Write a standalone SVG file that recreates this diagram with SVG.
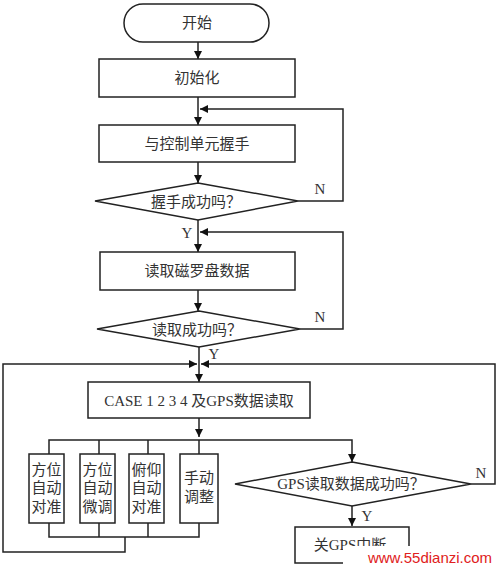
<svg xmlns="http://www.w3.org/2000/svg" width="500" height="566" viewBox="0 0 500 566">
<style>
.s{fill:#fff;stroke:#222;stroke-width:1.5}
.c{fill:none;stroke:#222;stroke-width:1.5}
.t{font-family:"Liberation Serif","Noto Sans CJK SC",serif;font-size:15px;fill:#333;text-anchor:middle;dominant-baseline:central}
.l{font-family:"Liberation Serif",serif;font-size:15px;fill:#333;text-anchor:middle;dominant-baseline:central}
</style>
<defs>
<marker id="a" viewBox="0 0 10 10" refX="10" refY="5" markerWidth="8" markerHeight="8" markerUnits="userSpaceOnUse" orient="auto">
<path d="M0,0 L10,5 L0,10 Z" fill="#111"/>
</marker>
</defs>
<rect width="500" height="566" fill="#fff"/>
<g id="connectors">
<line class="c" x1="198" y1="42" x2="198" y2="59" marker-end="url(#a)"/>
<line class="c" x1="198" y1="97" x2="198" y2="125" marker-end="url(#a)"/>
<polyline class="c" points="298,201 343,201 343,109 200,109" marker-end="url(#a)"/>
<line class="c" x1="198" y1="162" x2="198" y2="183" marker-end="url(#a)"/>
<line class="c" x1="198" y1="220" x2="198" y2="252" marker-end="url(#a)"/>
<polyline class="c" points="300,329 343,329 343,232 200,232" marker-end="url(#a)"/>
<line class="c" x1="198" y1="290" x2="198" y2="311" marker-end="url(#a)"/>
<line class="c" x1="199" y1="347" x2="199" y2="382" marker-end="url(#a)"/>
<polyline class="c" points="125,537 125,552 3,552 3,364 197,364" marker-end="url(#a)"/>
<polyline class="c" points="471,484 495,484 495,364 201,364" marker-end="url(#a)"/>
<line class="c" x1="199" y1="418" x2="199" y2="437" marker-end="url(#a)"/>
<polyline class="c" points="49,454 49,440 352,440 352,462" marker-end="url(#a)"/>
<line class="c" x1="99" y1="440" x2="99" y2="454"/>
<line class="c" x1="148" y1="440" x2="148" y2="454"/>
<line class="c" x1="199" y1="440" x2="199" y2="454"/>
<polyline class="c" points="49,523 49,537 199,537 199,523"/>
<line class="c" x1="99" y1="523" x2="99" y2="537"/>
<line class="c" x1="148" y1="523" x2="148" y2="537"/>
<line class="c" x1="352" y1="506" x2="352" y2="526" marker-end="url(#a)"/>
<text class="l" x="320" y="189">N</text>
<text class="l" x="187" y="233">Y</text>
<text class="l" x="320" y="317">N</text>
<text class="l" x="214" y="354">Y</text>
<text class="l" x="481" y="473">N</text>
<text class="l" x="367" y="516">Y</text>
</g>
<g id="start"><rect class="s" x="124" y="4" width="145" height="38" rx="19"/><text class="t" x="197" y="23">开始</text></g>
<g id="init"><rect class="s" x="99" y="59" width="196" height="38"/><text class="t" x="197" y="78">初始化</text></g>
<g id="handshake"><rect class="s" x="99" y="125" width="196" height="37"/><text class="t" x="197" y="144">与控制单元握手</text></g>
<g id="d1"><polygon class="s" points="198,183 298,201 198,220 95,201"/><text class="t" x="196" y="202">握手成功吗？</text></g>
<g id="compass"><rect class="s" x="100" y="252" width="195" height="38"/><text class="t" x="197" y="271">读取磁罗盘数据</text></g>
<g id="d2"><polygon class="s" points="199,311 300,329 199,347 97,329"/><text class="t" x="197" y="330">读取成功吗？</text></g>
<g id="case"><rect class="s" x="88" y="382" width="222" height="36"/><text class="t" x="199" y="401">CASE 1 2 3 4 及GPS数据读取</text></g>
<g id="b1"><rect class="s" x="29" y="454" width="35" height="69"/><text class="t" x="46.5" y="470">方位</text><text class="t" x="46.5" y="488">自动</text><text class="t" x="46.5" y="507">对准</text></g>
<g id="b2"><rect class="s" x="80" y="454" width="35" height="69"/><text class="t" x="97.5" y="470">方位</text><text class="t" x="97.5" y="488">自动</text><text class="t" x="97.5" y="507">微调</text></g>
<g id="b3"><rect class="s" x="129" y="454" width="35" height="69"/><text class="t" x="146.5" y="470">俯仰</text><text class="t" x="146.5" y="488">自动</text><text class="t" x="146.5" y="507">对准</text></g>
<g id="b4"><rect class="s" x="180" y="454" width="38" height="69"/><text class="t" x="199" y="478">手动</text><text class="t" x="199" y="497">调整</text></g>
<g id="d3"><polygon class="s" points="352,462 471,484 352,506 235,484"/><text class="t" x="351" y="484">GPS读取数据成功吗？</text></g>
<g id="gpsoff"><rect class="s" x="295" y="527" width="114" height="36"/><text class="t" x="350" y="545">关GPS中断</text></g>
<g id="watermark"><rect x="343" y="546" width="157" height="20" fill="#fff"/><text x="430" y="557" font-family="Liberation Sans,sans-serif" font-size="15" fill="#e02020" text-anchor="middle" dominant-baseline="central">www.55dianzi.com</text></g>
</svg>
